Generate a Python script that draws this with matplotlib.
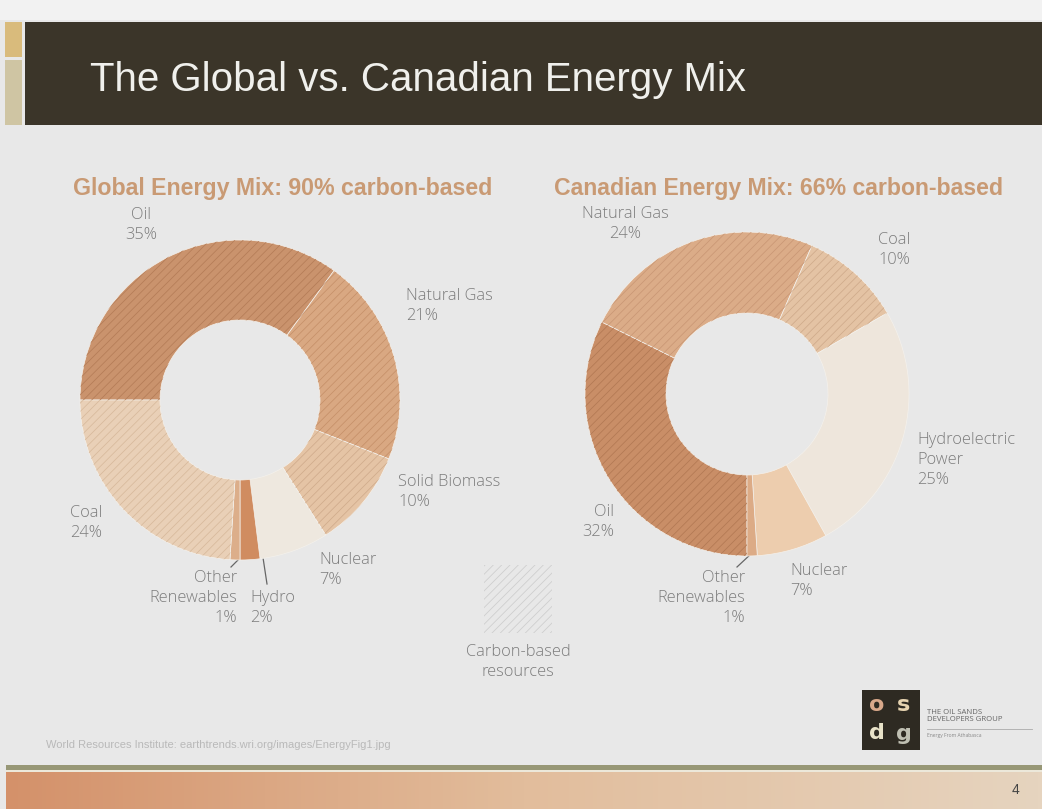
import numpy as np
import matplotlib
matplotlib.use("Agg")
import matplotlib.pyplot as plt
from matplotlib.patches import Rectangle

plt.rcParams['hatch.linewidth'] = 0.55

# ---- data ----
glob_labels = ["Oil", "Natural Gas", "Solid Biomass", "Nuclear", "Hydro", "Other Renewables", "Coal"]
glob_values = [35, 21, 10, 7, 2, 1, 24]
glob_colors = ["#ca936d", "#d9a882", "#e5c4a5", "#eee8df", "#d08c60", "#dcae8a", "#e9d0b7"]
glob_hatch = ["#b47c57", "#c59069", "#d0ab8b", None, None, None, "#d7b99c"]

can_labels = ["Oil", "Natural Gas", "Coal", "Hydroelectric Power", "Nuclear", "Other Renewables"]
can_values = [32, 24, 10, 25, 7, 1]
can_colors = ["#c98e67", "#dbac88", "#e4c3a4", "#eee6dc", "#edcdae", "#dcab86"]
can_hatch = ["#b27953", "#c99774", "#cfaa8a", None, None, None]

W, H = 1042, 809
fig = plt.figure(figsize=(W / 100, H / 100), dpi=100)
fig.patch.set_facecolor("#e8e8e8")

bg = fig.add_axes([0, 0, 1, 1])
bg.set_xlim(0, W)
bg.set_ylim(H, 0)
bg.axis("off")

# slide decorations
bg.add_patch(Rectangle((0, 0), W, 20, color="#f2f2f2", lw=0))
bg.add_patch(Rectangle((25, 22), W - 25, 103, color="#3b3529", lw=0))
bg.add_patch(Rectangle((5, 22), 17, 35, color="#d9bb7c", lw=0))
bg.add_patch(Rectangle((5, 60), 17, 65, color="#cfc5a3", lw=0))
bg.text(90, 80, "The Global vs. Canadian Energy Mix", color="#f0f0ec", fontsize=29,
        family="Liberation Sans", va="center", ha="left")

sub_color = "#c99a74"
bg.text(283, 188, "Global Energy Mix: 90% carbon-based", color=sub_color, fontsize=16.7,
        weight="bold", family="Liberation Sans", ha="center", va="center")
bg.text(779, 188, "Canadian Energy Mix: 66% carbon-based", color=sub_color, fontsize=16.6,
        weight="bold", family="Liberation Sans", ha="center", va="center")


def donut(cx, cy, r, values, colors, hatches, start):
    ax = fig.add_axes([(cx - r) / W, 1 - (cy + r) / H, 2 * r / W, 2 * r / H])
    ax.pie(values, colors=colors, startangle=start, counterclock=False,
           wedgeprops=dict(width=0.5, edgecolor="#f4f1ec", linewidth=0.5))
    over, _ = ax.pie(values, colors=colors, startangle=start, counterclock=False,
                     wedgeprops=dict(width=0.5, fill=False, linewidth=0))
    for w, hc in zip(over, hatches):
        if hc is not None:
            w.set_hatch("////")
            w.set_edgecolor(hc)
    ax.set_xlim(-1, 1)
    ax.set_ylim(-1, 1)
    ax.axis("off")
    return ax


donut(240, 400, 160, glob_values, glob_colors, glob_hatch, 180)
donut(747, 394, 162, can_values, can_colors, can_hatch, -90)

lab = dict(color="#7c7c7c", fontsize=11.8, family="Open Sans", weight="light", linespacing=1.3)

bg.text(141, 225, "Oil\n35%", ha="center", va="center", **lab)
bg.text(406, 306, "Natural Gas\n21%", ha="left", va="center", **lab)
bg.text(398, 492, "Solid Biomass\n10%", ha="left", va="center", **lab)
bg.text(319, 570, "Nuclear\n7%", ha="left", va="center", **lab)
bg.text(70, 523, "Coal\n24%", ha="left", va="center", **lab)
bg.text(237, 598, "Other\nRenewables\n1%", ha="right", va="center", multialignment="right", **lab)
bg.text(250, 608, "Hydro\n2%", ha="left", va="center", **lab)
bg.plot([245, 231], [553, 567], color="#666666", lw=0.9)
bg.plot([262, 267], [551, 584], color="#666666", lw=0.9)

bg.text(625, 224, "Natural Gas\n24%", ha="center", va="center", **lab)
bg.text(878, 250, "Coal\n10%", ha="left", va="center", **lab)
bg.text(917, 460, "Hydroelectric\nPower\n25%", ha="left", va="center", **lab)
bg.text(614, 522, "Oil\n32%", ha="right", va="center", multialignment="right", **lab)
bg.text(790, 581, "Nuclear\n7%", ha="left", va="center", **lab)
bg.text(745, 598, "Other\nRenewables\n1%", ha="right", va="center", multialignment="right", **lab)
bg.plot([752, 737], [553, 567], color="#666666", lw=0.9)

# carbon-based legend swatch
bg.add_patch(Rectangle((484, 565), 68, 68, fill=False, lw=0, hatch="////", edgecolor="#cdcdcd"))
bg.text(518, 662, "Carbon-based\nresources", ha="center", va="center", **lab)

# source line
bg.text(46, 745, "World Resources Institute: earthtrends.wri.org/images/EnergyFig1.jpg",
        color="#b9b9b9", fontsize=8, family="Liberation Sans", va="center")

# logo
bg.add_patch(Rectangle((862, 690), 58, 60, color="#2e2a22", lw=0))
logo = dict(fontsize=16, weight="bold", family="DejaVu Sans", ha="center", va="center")
bg.text(877, 705, "o", color="#d9a88a", **logo)
bg.text(904, 705, "s", color="#e6d3b0", **logo)
bg.text(877, 733, "d", color="#e8e2c8", **logo)
bg.text(904, 734, "g", color="#bfbfb2", **logo)
bg.text(927, 716, "THE OIL SANDS\nDEVELOPERS GROUP", color="#666666", fontsize=5.6,
        family="Open Sans", va="center", linespacing=1.1)
bg.plot([927, 1032], [729, 729], color="#aaaaaa", lw=0.6)
bg.text(927, 736, "Energy From Athabasca", color="#888888", fontsize=3.6, family="Open Sans", va="center")

# bottom band
bg.add_patch(Rectangle((6, 765), W - 6, 5, color="#979776", lw=0))
bg.add_patch(Rectangle((6, 770), W - 6, 2, color="#ece8da", lw=0))
grad = np.linspace(0, 1, 256).reshape(1, -1)
cmap = matplotlib.colors.LinearSegmentedColormap.from_list("band", ["#d4916a", "#e2bd9c", "#e6d4bf"])
bg.imshow(grad, cmap=cmap, extent=(6, W, 809, 772), aspect="auto", zorder=0.5)
bg.set_xlim(0, W)
bg.set_ylim(H, 0)
bg.text(1015, 790, "4", color="#444444", fontsize=10, family="Liberation Sans", ha="center", va="center")

fig.savefig("out.png", dpi=100, facecolor=fig.get_facecolor())
